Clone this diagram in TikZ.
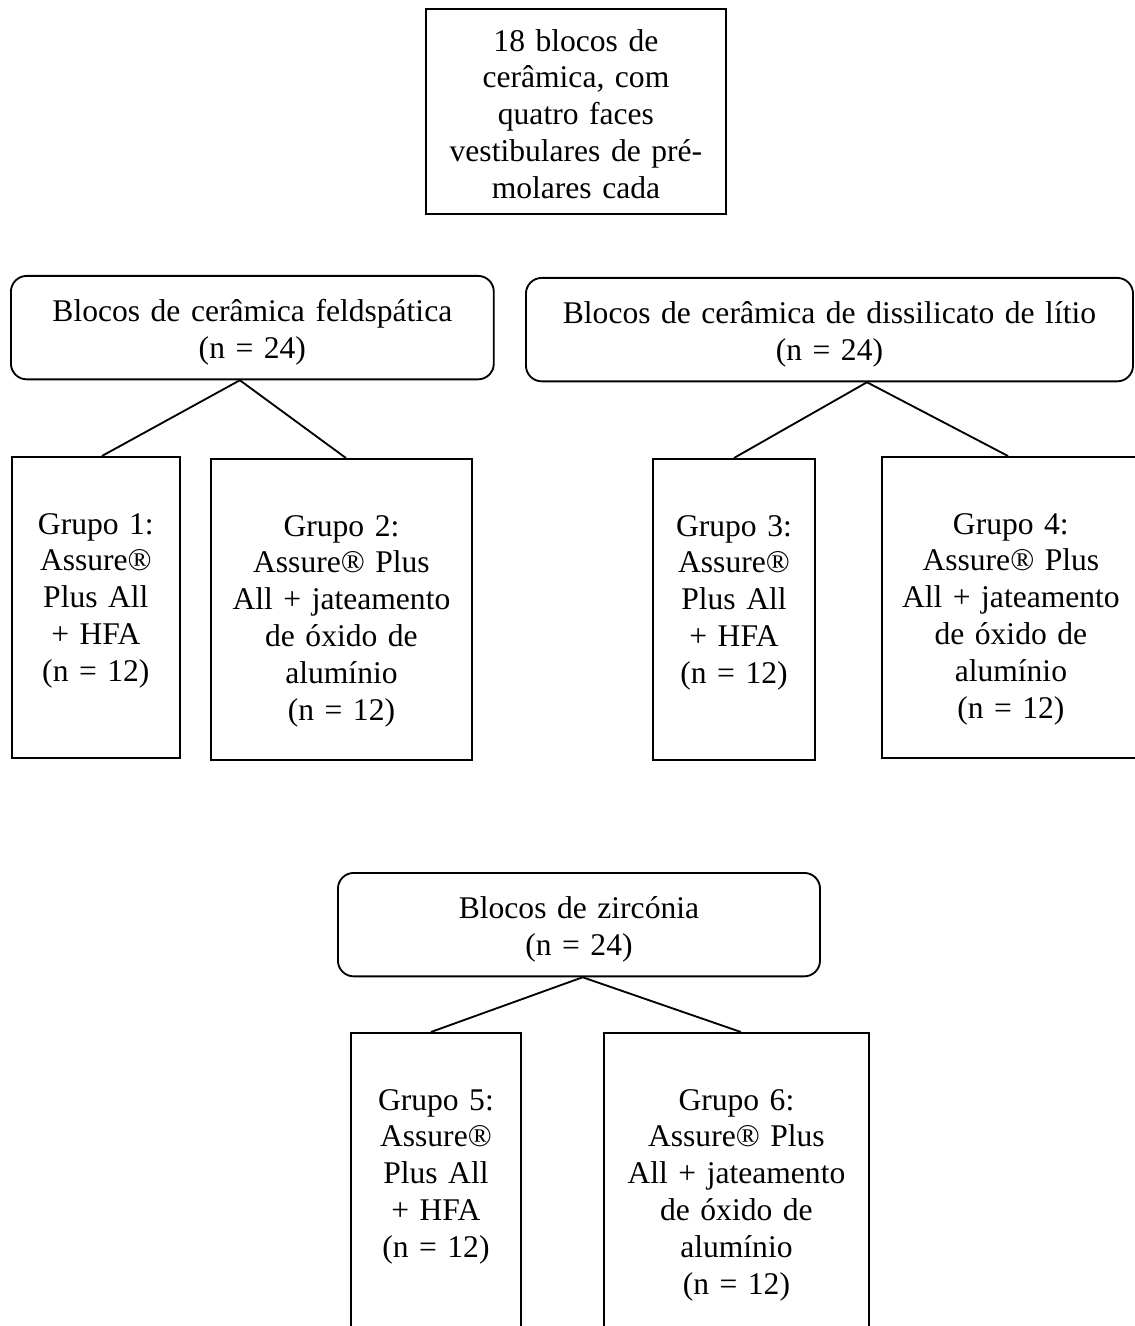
\documentclass[tikz,border=0pt]{standalone}
\usepackage{fontspec}
\setmainfont{Liberation Serif}
\usepackage{tikz}

\tikzset{
  box/.style={draw, line width=0.7pt, inner sep=0pt, align=center, anchor=north west,
    font=\fontsize{12}{14}\selectfont},
  blockbox/.style={box, rounded corners=6pt, text height=17.3pt, text depth=22pt},
  groupbox/.style={box, text height=29.3pt, text depth=85pt},
  link/.style={line width=0.7pt}
}

\begin{document}
\begin{tikzpicture}[x=0.38pt, y=-0.38pt]
\useasboundingbox (0,0) rectangle (1134,1326);

% Sample box
\node[box, text width=114pt, text height=16pt, text depth=62pt] (blocos) at (425,8)
  {18 blocos de\\cerâmica, com\\quatro faces\\vestibulares de pré-\\molares cada};

% Material boxes
\node[blockbox, text width=183.5pt] (feld) at (10,275) {Blocos de cerâmica feldspática\\(n = 24)};
\node[blockbox, text width=230.7pt] (litio) at (525,277) {Blocos de cerâmica de dissilicato de lítio\\(n = 24)};
\node[blockbox, text width=183.2pt] (zirc) at (337,872) {Blocos de zircónia\\(n = 24)};

% Group boxes
\node[groupbox, text width=63.8pt] (g1) at (11,456) {Grupo 1:\\Assure®\\Plus All\\+ HFA\\(n = 12)};
\node[groupbox, text width=99.2pt] (g2) at (210,458) {Grupo 2:\\Assure® Plus\\All + jateamento\\de óxido de\\alumínio\\(n = 12)};
\node[groupbox, text width=61.6pt] (g3) at (652,458) {Grupo 3:\\Assure®\\Plus All\\+ HFA\\(n = 12)};
\node[groupbox, text width=98pt] (g4) at (881,456) {Grupo 4:\\Assure® Plus\\All + jateamento\\de óxido de\\alumínio\\(n = 12)};
\node[groupbox, text width=64.6pt] (g5) at (350,1032) {Grupo 5:\\Assure®\\Plus All\\+ HFA\\(n = 12)};
\node[groupbox, text width=100.7pt] (g6) at (603,1032) {Grupo 6:\\Assure® Plus\\All + jateamento\\de óxido de\\alumínio\\(n = 12)};

% Connectors
\draw[link] ([xshift=-4.75pt]feld.south) -- ([xshift=2.3pt]g1.north);
\draw[link] ([xshift=-4.75pt]feld.south) -- ([xshift=1.7pt]g2.north);
\draw[link] ([xshift=14.25pt]litio.south) -- (g3.north);
\draw[link] ([xshift=14.25pt]litio.south) -- ([xshift=-1.1pt]g4.north);
\draw[link] ([xshift=1.4pt]zirc.south) -- ([xshift=-1.9pt]g5.north);
\draw[link] ([xshift=1.4pt]zirc.south) -- ([xshift=1.7pt]g6.north);

\end{tikzpicture}
\end{document}
